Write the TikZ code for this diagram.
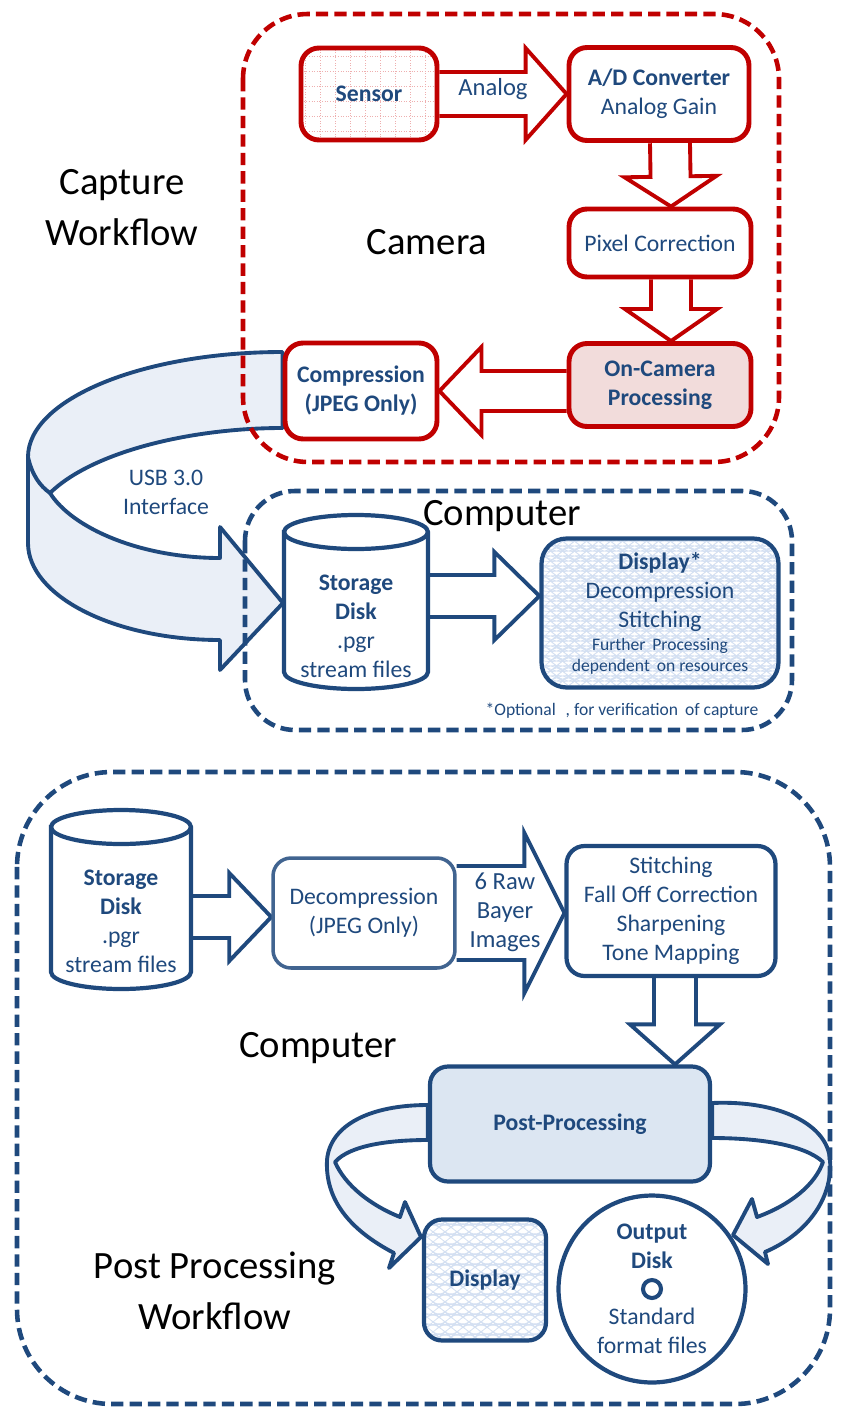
\documentclass[tikz,border=0pt]{standalone}
\usepackage{fontspec}
\setmainfont{Carlito}
\usetikzlibrary{calc,backgrounds,decorations.pathmorphing}

\definecolor{camred}{RGB}{192,0,0}
\definecolor{pcblue}{RGB}{31,73,125}
\definecolor{oncamfill}{RGB}{242,220,219}
\definecolor{postfill}{RGB}{220,230,242}
\definecolor{ribbonfill}{RGB}{234,239,247}
\definecolor{gridpink}{RGB}{238,175,175}
\definecolor{wavyblue}{RGB}{212,224,242}

\newcommand{\boxfont}{\fontsize{13.5}{16.5}\selectfont}
\newcommand{\bigfont}{\fontsize{22}{29}\selectfont}
\newcommand{\smallfont}{\fontsize{10}{12}\selectfont}

% block arrow: [style]{from}{to}{shaft half width}{head half width}{head length}
\newcommand{\blockarrow}[6][]{%
  \coordinate (ba-s) at #2;
  \coordinate (ba-t) at #3;
  \coordinate (ba-h) at ($(ba-t)!#6!(ba-s)$);
  \filldraw[#1] ($(ba-s)!#4!90:(ba-t)$) -- ($(ba-h)!#4!90:(ba-t)$)
    -- ($(ba-h)!#5!90:(ba-t)$) -- (ba-t) -- ($(ba-h)!#5!-90:(ba-t)$)
    -- ($(ba-h)!#4!-90:(ba-t)$) -- ($(ba-s)!#4!-90:(ba-t)$);}

\tikzset{
  redbox/.style={draw=camred, line width=2.8pt, rounded corners=0.36cm, fill=white,
    text=pcblue, align=center, inner sep=0pt, font=\boxfont},
  bluebox/.style={draw=pcblue, line width=2.4pt, rounded corners=0.36cm, fill=white,
    text=pcblue, align=center, inner sep=0pt, font=\boxfont},
  redarrow/.style={draw=camred, line width=2.2pt, fill=white, line join=miter},
  bluearrow/.style={draw=pcblue, line width=2.2pt, fill=white, line join=miter},
  ribbon/.style={draw=pcblue, line width=2.2pt, fill=ribbonfill, line join=round},
  camframe/.style={draw=camred, line width=2.6pt, dash pattern=on 7pt off 3.5pt,
    rounded corners=1.3cm},
  pcframe/.style={draw=pcblue, line width=2.6pt, dash pattern=on 7pt off 3.5pt,
    rounded corners=1cm},
  diskline/.style={draw=pcblue, line width=2.4pt, fill=white},
  biglabel/.style={font=\bigfont, align=center, text=black},
  lbl/.style={font=\boxfont, text=pcblue, align=center, inner sep=0pt},
  sensorgrid/.style={path picture={
    \draw[gridpink, densely dotted, line width=0.5pt]
      (path picture bounding box.south west) grid[step=0.3cm]
      (path picture bounding box.north east);}},
  wavefill/.style={path picture={
    \foreach \k in {0,...,34}{
      \draw[wavyblue, line width=0.4pt, decorate,
        decoration={zigzag, amplitude=0.05cm, segment length=0.24cm}]
        ($(path picture bounding box.north west)+(0cm,-\k*0.2cm)$) -- ++(6cm,0cm);}}},
}

\begin{document}
\begin{tikzpicture}[x=0.02cm,y=0.02cm]
  \useasboundingbox (0,0) rectangle (841,-1410);

  % ---- capture workflow
  \node[biglabel] (capture) at (122,-208) {Capture\\Workflow};
  \draw[camframe] (243,-14) rectangle (779,-462);
  \node[biglabel] (camera) at (427,-242) {Camera};

  \node[redbox, sensorgrid, font=\boxfont\bfseries, minimum width=2.72cm,
    minimum height=1.84cm] (sensor) at (369,-94) {Sensor};
  \node[redbox, minimum width=3.6cm, minimum height=1.86cm] (ad) at (659,-94)
    {\textbf{A/D Converter}\\Analog Gain};
  \node[redbox, minimum width=3.64cm, minimum height=1.36cm] (pix) at (660,-243)
    {Pixel Correction};
  \node[redbox, fill=oncamfill, minimum width=3.64cm, minimum height=1.66cm]
    (oncam) at (660,-385) {\textbf{On-Camera}\\\textbf{Processing}};
  \node[redbox, minimum width=3.04cm, minimum height=1.92cm] (comp) at (361,-391)
    {\textbf{Compression}\\\textbf{(JPEG Only)}};
  \node[lbl, font=\fontsize{14}{17}\selectfont] (analoglbl) at (493,-89) {Analog};

  % ---- computer (capture)
  \draw[pcframe] (245,-491) rectangle (792,-730);
  \node[biglabel] (computer1) at (502,-516) {Computer};
  \coordinate (disk1c) at (356,-626);
  \draw[diskline] ($(disk1c)+(-72,94)$) -- ($(disk1c)+(-72,-46)$)
    arc[start angle=180, end angle=360, x radius=1.44cm, y radius=0.34cm]
    -- ($(disk1c)+(72,94)$)
    arc[start angle=0, end angle=180, x radius=1.44cm, y radius=0.34cm] -- cycle;
  \draw[diskline, fill=none] ($(disk1c)+(-72,94)$)
    arc[start angle=180, end angle=360, x radius=1.44cm, y radius=0.34cm];
  \node[lbl] (disk1) at (disk1c) {\textbf{Storage}\\\textbf{Disk}\\.pgr\\stream files};
  \coordinate (disk1r) at ($(disk1c)+(72,30)$);
  \node[bluebox, wavefill, rounded corners=0.5cm, minimum width=4.74cm,
    minimum height=2.98cm] (disp1) at (660,-613)
    {\textbf{Display*}\\Decompression\\Stitching\\[-3pt]
     {\smallfont Further\, Processing}\\[-5pt]{\smallfont dependent\, on resources}};
  \node[lbl, font=\smallfont] (note) at (622,-711)
    {*Optional\,\, , for verification\, of capture};
  \node[lbl] (usblbl) at (166,-492) {USB 3.0\\Interface};

  % ---- post processing workflow
  \draw[pcframe, rounded corners=1.9cm] (17,-772) rectangle (830,-1404);
  \node[biglabel] (computer2) at (318,-1048) {Computer};
  \node[biglabel] (ppworkflow) at (215,-1291) {Post Processing\\Workflow};
  \coordinate (disk2c) at (121,-921);
  \draw[diskline] ($(disk2c)+(-70,94)$) -- ($(disk2c)+(-70,-51)$)
    arc[start angle=180, end angle=360, x radius=1.4cm, y radius=0.34cm]
    -- ($(disk2c)+(70,94)$)
    arc[start angle=0, end angle=180, x radius=1.4cm, y radius=0.34cm] -- cycle;
  \draw[diskline, fill=none] ($(disk2c)+(-70,94)$)
    arc[start angle=180, end angle=360, x radius=1.4cm, y radius=0.34cm];
  \node[lbl] (disk2) at (disk2c) {\textbf{Storage}\\\textbf{Disk}\\.pgr\\stream files};
  \coordinate (disk2r) at ($(disk2c)+(70,4)$);
  \node[bluebox, draw=pcblue!85, line width=2pt, minimum width=3.64cm,
    minimum height=2.2cm] (decomp) at (364,-913) {Decompression\\(JPEG Only)};
  \node[bluebox, minimum width=4.18cm, minimum height=2.6cm] (stitch) at (671,-911)
    {Stitching\\Fall Off Correction\\Sharpening\\Tone Mapping};
  \coordinate (stitchb) at ($(stitch.south)+(4,0)$);
  \node[lbl, font=\fontsize{14}{16.5}\selectfont] (rawlbl) at (505,-912)
    {6 Raw\\Bayer\\Images};
  \node[bluebox, fill=postfill, font=\boxfont\bfseries, minimum width=5.6cm,
    minimum height=2.3cm] (post) at (570,-1124) {Post-Processing};
  \node[bluebox, wavefill, font=\boxfont\bfseries, minimum width=2.44cm,
    minimum height=2.42cm] (disp2) at (485,-1280) {Display};
  \node[bluebox, circle, minimum size=3.74cm] (out) at (652,-1289)
    {\textbf{Output}\\\textbf{Disk}\\[15.5pt]Standard\\format files};
  \node[circle, draw=pcblue, line width=2.3pt, minimum size=0.36cm, inner sep=0pt]
    (outring) at (out.center) {};

  \begin{scope}[on background layer]
    % camera arrows
    \blockarrow[redarrow]{(sensor.east)}{(ad.west)}{0.44cm}{0.92cm}{0.82cm}
    \blockarrow[redarrow]{($(ad.south)+(11,0)$)}{($(pix.north)+(11,0)$)}{0.4cm}{0.92cm}{0.6cm}
    \blockarrow[redarrow]{($(pix.south)+(11,0)$)}{($(oncam.north)+(11,0)$)}{0.4cm}{0.92cm}{0.64cm}
    \blockarrow[redarrow]{(oncam.west |- comp.east)}{(comp.east)}{0.4cm}{0.88cm}{0.84cm}
    % usb ribbon
    \draw[ribbon] (comp.west |- 0,-352) .. controls (143,-352) and (28,-399) .. (28,-457)
      -- (28,-543) .. controls (28,-596) and (114,-640) .. (220,-640)
      -- (220,-670) -- (283,-603) -- (220,-527) -- (220,-558)
      .. controls (140,-558) and (72,-528) .. (50,-493)
      .. controls (92,-452) and (190,-428) .. (comp.west |- 0,-428) -- cycle;
    \draw[ribbon, fill=none] (28,-457) .. controls (32,-475) and (40,-486) .. (50,-493);
    % computer arrow
    \blockarrow[bluearrow]{(disk1r)}{(disk1r -| disp1.west)}{0.42cm}{0.88cm}{0.9cm}
    % post processing arrows
    \blockarrow[bluearrow]{(disk2r)}{(disk2r -| decomp.west)}{0.42cm}{0.88cm}{0.84cm}
    \blockarrow[bluearrow]{(decomp.east)}{(decomp.east -| stitch.west)}{0.94cm}{1.6cm}{0.8cm}
    \blockarrow[bluearrow]{(stitchb)}{(stitchb |- post.north)}{0.42cm}{0.9cm}{0.8cm}
    % output ribbons
    \draw[ribbon] (post.west |- 0,-1105) .. controls (370,-1105) and (330,-1125) .. (327,-1160)
      .. controls (325,-1200) and (350,-1230) .. (394,-1253)
      -- (389,-1268) -- (421,-1237) -- (405,-1202) -- (400,-1217)
      .. controls (370,-1205) and (345,-1185) .. (335,-1162)
      .. controls (350,-1145) and (390,-1140) .. (post.west |- 0,-1140) -- cycle;
    \draw[ribbon] (post.east |- 0,-1103) .. controls (780,-1100) and (828,-1125) .. (830,-1160)
      .. controls (833,-1200) and (805,-1235) .. (765,-1252)
      -- (768,-1264) -- (733,-1235) -- (752,-1199) -- (757,-1217)
      .. controls (790,-1205) and (815,-1185) .. (823,-1162)
      .. controls (805,-1145) and (760,-1138) .. (post.east |- 0,-1138) -- cycle;
  \end{scope}
\end{tikzpicture}
\end{document}
